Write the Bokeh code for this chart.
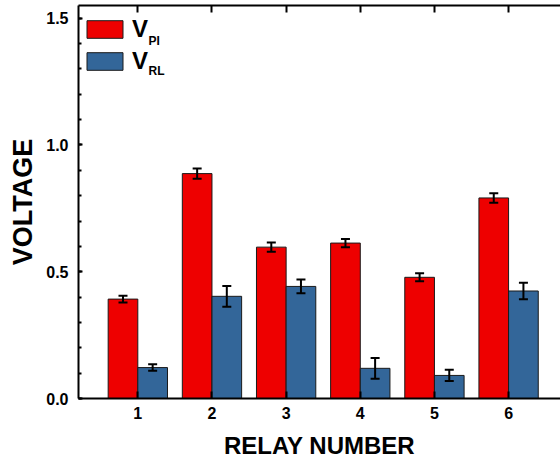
from bokeh.plotting import figure
from bokeh.models import (ColumnDataSource, Range1d, FixedTicker, LinearAxis,
                          Whisker, TeeHead, Legend, LegendItem, Label,
                          NumeralTickFormatter)
from bokeh.embed import file_html
from bokeh.resources import INLINE

# Measured voltages per relay (mean and error)
relays = [1, 2, 3, 4, 5, 6]
v_pi = [0.392, 0.887, 0.597, 0.613, 0.478, 0.791]
v_pi_err = [0.013, 0.020, 0.018, 0.016, 0.016, 0.019]
v_rl = [0.122, 0.403, 0.442, 0.119, 0.091, 0.424]
v_rl_err = [0.013, 0.041, 0.027, 0.041, 0.022, 0.033]
y_ticks = [0.0, 0.5, 1.0, 1.5]

RED = "#ee0000"
BLUE = "#336699"
FONT = "Liberation Sans"
OFFSET = 0.2
BAR_W = 0.4

src = ColumnDataSource(dict(
    x_pi=[r - OFFSET for r in relays],
    x_rl=[r + OFFSET for r in relays],
    pi=v_pi,
    pi_lo=[v - e for v, e in zip(v_pi, v_pi_err)],
    pi_hi=[v + e for v, e in zip(v_pi, v_pi_err)],
    rl=v_rl,
    rl_lo=[v - e for v, e in zip(v_rl, v_rl_err)],
    rl_hi=[v + e for v, e in zip(v_rl, v_rl_err)],
))

p = figure(width=560, height=461, output_backend="svg", toolbar_location=None,
           x_range=Range1d(0.2, 6.7), y_range=Range1d(0, 1.55),
           min_border_left=78, min_border_right=0, min_border_top=5,
           min_border_bottom=63, x_axis_location=None, y_axis_location=None)
p.outline_line_color = None
p.grid.visible = False
p.background_fill_color = "white"

r_pi = p.vbar(x="x_pi", top="pi", width=BAR_W, source=src,
              fill_color=RED, line_color="#1a1a1a", line_width=1)
r_rl = p.vbar(x="x_rl", top="rl", width=BAR_W, source=src,
              fill_color=BLUE, line_color="#1a1a1a", line_width=1)

# Error bars drawn above the bars
for base, lo, hi in (("x_pi", "pi_lo", "pi_hi"), ("x_rl", "rl_lo", "rl_hi")):
    w = Whisker(base=base, lower=lo, upper=hi, source=src, dimension="height",
                level="overlay", line_color="black", line_width=2,
                upper_head=TeeHead(size=9, line_width=2, line_color="black"),
                lower_head=TeeHead(size=9, line_width=2, line_color="black"))
    p.add_layout(w)

def style_axis(ax):
    ax.axis_line_width = 2
    ax.axis_line_color = "black"
    ax.major_tick_line_width = 2
    ax.minor_tick_line_width = 2
    ax.major_tick_out = 0
    ax.minor_tick_out = 0
    ax.major_label_text_font = FONT
    ax.major_label_text_font_style = "bold"
    ax.major_label_text_font_size = "16px"
    ax.major_label_text_color = "black"
    ax.axis_label_text_font = FONT
    ax.axis_label_text_font_style = "bold"
    ax.axis_label_text_color = "black"

# Bottom axis: relay numbers
xb = LinearAxis(ticker=FixedTicker(ticks=relays), axis_label="RELAY NUMBER")
style_axis(xb)
xb.major_tick_in = 7
xb.minor_tick_in = 0
xb.major_label_standoff = 8
xb.axis_label_standoff = 10
xb.axis_label_text_font_size = "24px"
xb.axis_label_text_line_height = 0.9
xb.major_label_text_line_height = 1.0
p.add_layout(xb, "below")

# Left axis: voltage
yl = LinearAxis(ticker=FixedTicker(ticks=y_ticks,
                                   minor_ticks=[i / 10 for i in range(16)]),
                formatter=NumeralTickFormatter(format="0.0"),
                axis_label="VOLTAGE")
style_axis(yl)
yl.major_tick_in = 4
yl.minor_tick_in = 3
yl.major_label_standoff = 10
yl.axis_label_standoff = 5
yl.axis_label_text_font_size = "27px"
yl.axis_label_text_line_height = 0.9
p.add_layout(yl, "left")

# Top axis: frame line with inward ticks, no labels
xt = LinearAxis(ticker=FixedTicker(ticks=relays),
                major_label_overrides={r: "" for r in relays})
style_axis(xt)
xt.major_tick_in = 7
xt.minor_tick_in = 0
xt.major_label_standoff = 0
xt.major_label_text_font_size = "2px"
p.add_layout(xt, "above")

# Legend with subscripted labels
legend = Legend(items=[LegendItem(label="V", renderers=[r_pi]),
                       LegendItem(label="V", renderers=[r_rl])],
                location=(4, 323), orientation="vertical",
                glyph_width=45, glyph_height=22, spacing=4,
                label_standoff=5, padding=0, margin=0,
                border_line_color=None, background_fill_alpha=0,
                label_text_font=FONT, label_text_font_style="bold",
                label_text_font_size="24px", label_text_color="black")
p.add_layout(legend)

for text, y in (("PI", 358), ("RL", 328)):
    p.add_layout(Label(x=70, y=y, x_units="screen", y_units="screen",
                       text=text, text_font=FONT, text_font_style="bold",
                       text_font_size="12px", text_color="black",
                       text_baseline="alphabetic"))

open("out.html", "w").write(file_html(p, INLINE))
